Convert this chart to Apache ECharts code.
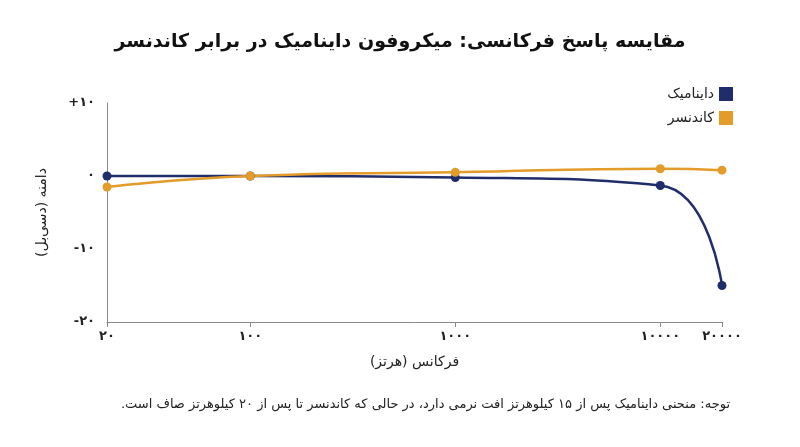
<!DOCTYPE html>
<html><head><meta charset="utf-8">
<script src="https://cdn.jsdelivr.net/npm/echarts@6/dist/echarts.min.js"></script>
<style>html,body{margin:0;padding:0;background:#fff}#c{width:800px;height:447px}</style>
</head><body><div id="c"></div>
<script>
const freqs = [20, 100, 1000, 10000, 20000];
const dynamicVals = [0, 0, -0.2, -1.3, -15];
const condenserVals = [-1.5, 0, 0.5, 1, 0.8];
const yTicks = [-20, -10, 0, 10];
const fa = s => String(s).replace(/\d/g, d => '۰۱۲۳۴۵۶۷۸۹'[d]);
const F = 'DejaVu Sans';
const chart = echarts.init(document.getElementById('c'));
chart.setOption({
  animation: false,
  textStyle: {fontFamily: F},
  title: {text: 'مقایسه پاسخ فرکانسی: میکروفون داینامیک در برابر کاندنسر', left: 'center', top: 28,
    textStyle: {fontFamily: F, fontSize: 19, fontWeight: 'bold', color: '#111'}},
  legend: {right: 62, top: 82, orient: 'vertical', align: 'right', itemWidth: 14, itemHeight: 14, itemGap: 10,
    textStyle: {fontFamily: F, fontSize: 14, color: '#222'},
    data: [{name: 'داینامیک', icon: 'rect'}, {name: 'کاندنسر', icon: 'rect'}]},
  grid: {left: 107, right: 78, top: 103, bottom: 125},
  xAxis: {type: 'log', min: 20, max: 20000, logBase: 10,
    name: 'فرکانس (هرتز)', nameLocation: 'middle', nameGap: 33,
    nameTextStyle: {fontFamily: F, fontSize: 14, color: '#222'},
    axisLine: {onZero: false, lineStyle: {color: '#888'}},
    axisTick: {show: true, customValues: freqs, lineStyle: {color: '#888'}},
    axisLabel: {customValues: freqs, formatter: v => fa(v), color: '#222', fontSize: 13, fontWeight: 'bold'},
    splitLine: {show: false}, minorTick: {show: false}},
  yAxis: {type: 'value', min: -20, max: 10, interval: 10,
    name: 'دامنه (دسی‌بل)', nameLocation: 'middle', nameGap: 58, nameRotate: 90,
    nameTextStyle: {fontFamily: F, fontSize: 14, color: '#222'},
    axisLine: {show: true, lineStyle: {color: '#888'}}, axisTick: {show: false},
    axisLabel: {formatter: v => v > 0 ? '+' + fa(v) : (v < 0 ? '-' + fa(-v) : fa(v)), color: '#222', fontSize: 13, fontWeight: 'bold', margin: 12},
    splitLine: {show: false}},
  graphic: [{type: 'text', right: 70, top: 398, style: {text: 'توجه: منحنی داینامیک پس از ۱۵ کیلوهرتز افت نرمی دارد، در حالی که کاندنسر تا پس از ۲۰ کیلوهرتز صاف است.\u200F',
    font: '13px DejaVu Sans', fill: '#222'}}],
  series: [
    {name: 'داینامیک', type: 'line', smooth: true, symbol: 'circle', symbolSize: 9,
     color: '#1f2d6b', lineStyle: {width: 2.5}, data: freqs.map((f, i) => [f, dynamicVals[i]])},
    {name: 'کاندنسر', type: 'line', smooth: true, symbol: 'circle', symbolSize: 9,
     color: '#e39b2a', lineStyle: {width: 2.5}, data: freqs.map((f, i) => [f, condenserVals[i]])}
  ]
});
</script></body></html>
